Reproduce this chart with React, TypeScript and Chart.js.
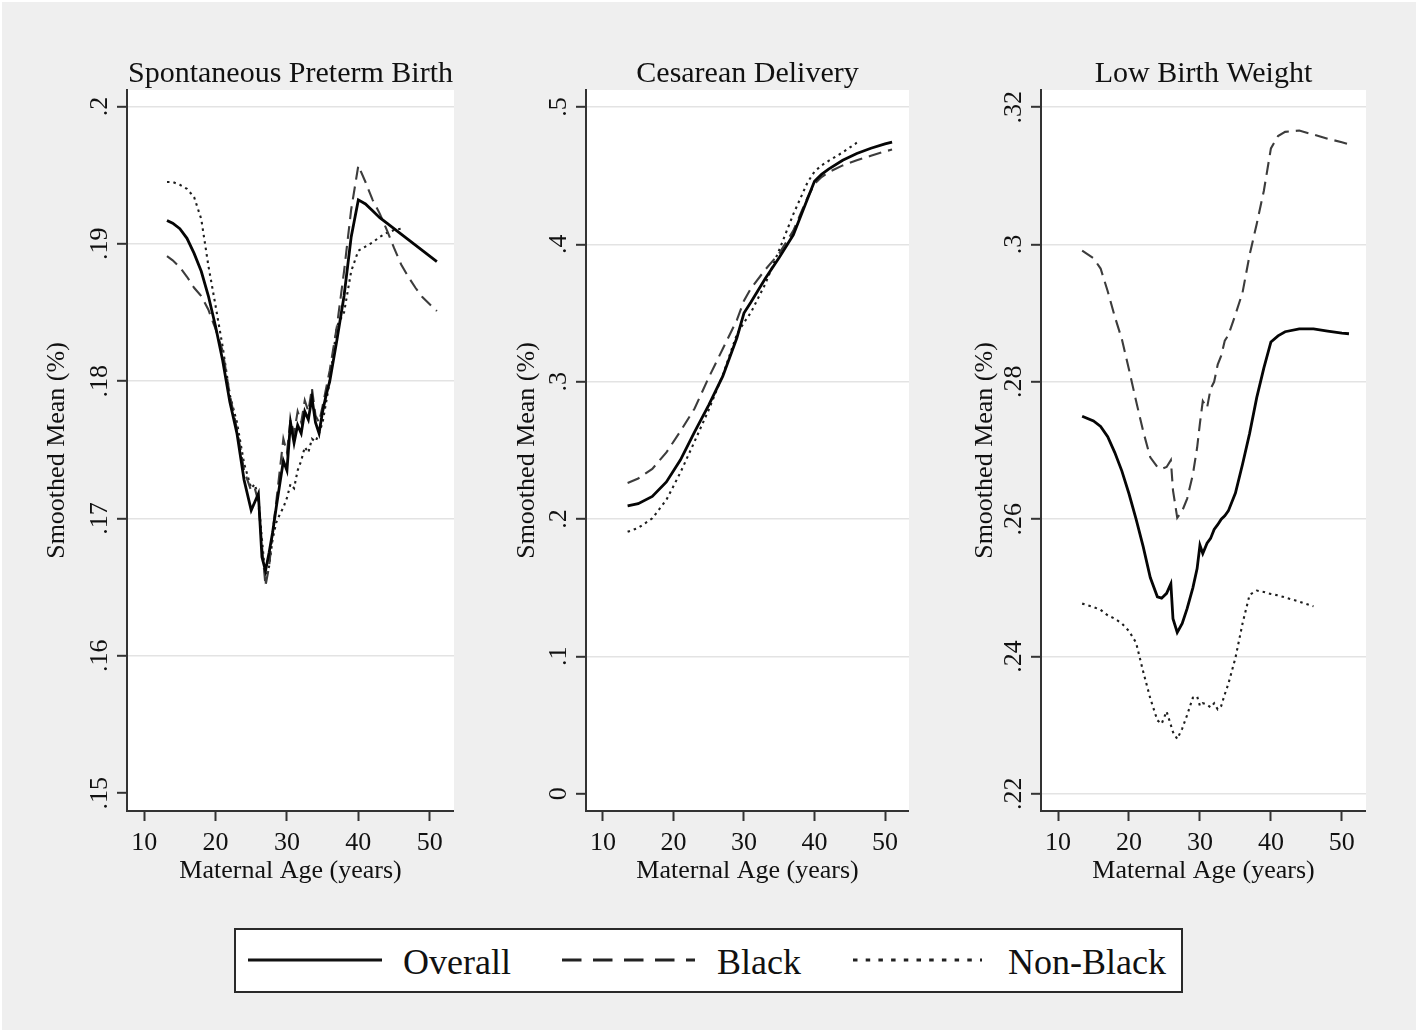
import React, { useEffect, useRef } from "react";
import { Chart, registerables } from "chart.js";

Chart.register(...registerables);

const FONT = "'Liberation Serif', 'Times New Roman', serif";
const INK = "#111111";
const AXIS = "#333333";
const GRID = "#e3e3e3";

// x axis
const xTicks = [10, 20, 30, 40, 50];
const AGE_MIN = 7.6;
const AGE_MAX = 53.4;

// ---------- Spontaneous Preterm Birth ----------
const spbAges = [13.2, 14, 15, 16, 17, 18, 19, 20, 21, 22, 23, 24, 25, 25.5, 26, 26.5, 27, 27.5, 28, 28.5, 29, 29.5, 30, 30.5, 31, 31.5, 32, 32.5, 33, 33.5, 34, 34.5, 35, 35.5, 36, 37, 38, 39, 40, 41, 42, 43, 44, 45, 46, 47, 48, 49, 50, 51];
const spbOverall = [0.1917, 0.1915, 0.1911, 0.1904, 0.1893, 0.188, 0.1862, 0.184, 0.1815, 0.1785, 0.1762, 0.1728, 0.1706, 0.1712, 0.1718, 0.1672, 0.1662, 0.1675, 0.169, 0.1708, 0.1725, 0.1742, 0.1735, 0.177, 0.1755, 0.1768, 0.1762, 0.1778, 0.1772, 0.1788, 0.177, 0.1762, 0.1778, 0.179, 0.18, 0.183, 0.1862, 0.1905, 0.1932, 0.1929, 0.1924, 0.1919, 0.1915, 0.1911, 0.1907, 0.1903, 0.1899, 0.1895, 0.1891, 0.1887];
const spbBlack = [0.1891, 0.1888, 0.1883, 0.1876, 0.1868, 0.1862, 0.1852, 0.1838, 0.1822, 0.179, 0.1765, 0.1735, 0.172, 0.1722, 0.1712, 0.168, 0.1651, 0.1665, 0.169, 0.1712, 0.1735, 0.1758, 0.1748, 0.1772, 0.1762, 0.1778, 0.177, 0.1786, 0.1778, 0.1795, 0.1775, 0.177, 0.1782, 0.1795, 0.1808, 0.184, 0.188, 0.1925, 0.1957, 0.1945, 0.1932, 0.1922, 0.191, 0.1897, 0.1885, 0.1876, 0.1868, 0.1861, 0.1856, 0.1851];
const spbNonBlack = [0.1945, 0.1945, 0.1943, 0.194, 0.1934, 0.1918, 0.1884, 0.1855, 0.1825, 0.179, 0.177, 0.174, 0.1722, 0.1725, 0.1715, 0.1685, 0.1656, 0.1665, 0.1685, 0.1697, 0.1703, 0.1708, 0.1715, 0.1725, 0.1722, 0.1735, 0.1742, 0.1752, 0.1748, 0.1758, 0.1756, 0.1762, 0.177, 0.1785, 0.18, 0.184, 0.185, 0.188, 0.1895, 0.1898, 0.1901, 0.1905, 0.1908, 0.191, 0.1911, null, null, null, null, null];
const spbTicks = [0.15, 0.16, 0.17, 0.18, 0.19, 0.2];
const spbTickLabels = [".15", ".16", ".17", ".18", ".19", ".2"];

// ---------- Cesarean Delivery ----------
const cesAges = [13.5, 15, 17, 19, 21, 23, 25, 27, 29, 30, 31, 33, 35, 37, 39, 40, 41, 42, 44, 46, 48, 50, 51];
const cesOverall = [0.2096, 0.2112, 0.2165, 0.227, 0.2431, 0.2635, 0.283, 0.304, 0.332, 0.35, 0.358, 0.375, 0.3905, 0.407, 0.433, 0.446, 0.451, 0.4548, 0.4612, 0.4662, 0.47, 0.4732, 0.4745];
const cesBlack = [0.2263, 0.2295, 0.2365, 0.2485, 0.264, 0.2805, 0.303, 0.324, 0.345, 0.359, 0.368, 0.3815, 0.3935, 0.41, 0.434, 0.444, 0.449, 0.4525, 0.4575, 0.4612, 0.4645, 0.4677, 0.469];
const cesNonBlack = [0.1907, 0.1935, 0.2005, 0.214, 0.234, 0.2565, 0.2795, 0.305, 0.3345, 0.343, 0.3505, 0.371, 0.396, 0.422, 0.445, 0.453, 0.4575, 0.4608, 0.467, 0.474, null, null, null];
const cesTicks = [0, 0.1, 0.2, 0.3, 0.4, 0.5];
const cesTickLabels = ["0", ".1", ".2", ".3", ".4", ".5"];

// ---------- Low Birth Weight ----------
const lbwAges = [13.4, 15, 16, 17, 18, 19, 20, 21, 22, 23, 24, 24.6, 25.3, 25.9, 26.2, 26.8, 27.5, 28.2, 29, 29.6, 30, 30.4, 31, 31.5, 32, 32.5, 33, 33.5, 34, 35, 36, 37, 38, 39, 40, 41, 42, 44, 46, 48, 50, 51];
const lbwOverall = [0.275, 0.2743, 0.2735, 0.272, 0.2697, 0.267, 0.2637, 0.26, 0.256, 0.2515, 0.2487, 0.2485, 0.2492, 0.2506, 0.2455, 0.2435, 0.2448, 0.247, 0.25, 0.2528, 0.2562, 0.255, 0.2565, 0.2572, 0.2585, 0.2592, 0.26, 0.2605, 0.2612, 0.2638, 0.268, 0.2725, 0.2777, 0.282, 0.2858, 0.2867, 0.2873, 0.2877, 0.2877, 0.2874, 0.2871, 0.287];
const lbwBlack = [0.2991, 0.298, 0.2965, 0.2932, 0.2895, 0.2862, 0.2818, 0.2772, 0.2728, 0.269, 0.2676, 0.2673, 0.2676, 0.2686, 0.2642, 0.2602, 0.2612, 0.263, 0.2665, 0.2704, 0.274, 0.2772, 0.2762, 0.279, 0.28, 0.2825, 0.2838, 0.286, 0.2868, 0.2898, 0.293, 0.2985, 0.303, 0.3078, 0.314, 0.3158, 0.3164, 0.3166, 0.316, 0.3154, 0.3149, 0.3146];
const lbwNonBlack = [0.2477, 0.2472, 0.2468, 0.246, 0.2455, 0.2448, 0.2437, 0.242, 0.2378, 0.2339, 0.2307, 0.2302, 0.232, 0.23, 0.229, 0.228, 0.2295, 0.2315, 0.234, 0.2342, 0.2328, 0.2332, 0.233, 0.2326, 0.2332, 0.2323, 0.2328, 0.2345, 0.236, 0.2398, 0.2448, 0.249, 0.2496, 0.2494, 0.2491, 0.2489, 0.2486, 0.248, 0.2473, null, null, null];
const lbwTicks = [0.22, 0.24, 0.26, 0.28, 0.3, 0.32];
const lbwTickLabels = [".22", ".24", ".26", ".28", ".3", ".32"];

const seriesNames = ["Overall", "Black", "Non-Black"];

type PanelDef = {
  title: string;
  ages: number[];
  series: (number | null)[][];
  yMin: number;
  yMax: number;
  yTicks: number[];
  yTickLabels: string[];
  gridAtMin: boolean;
  axisX: number;
  plotRight: number;
  yTitleOffset: number;
};

const panels: PanelDef[] = [
  { title: "Spontaneous Preterm Birth", ages: spbAges, series: [spbOverall, spbBlack, spbNonBlack], yMin: 0.1487, yMax: 0.2012, yTicks: spbTicks, yTickLabels: spbTickLabels, gridAtMin: false, axisX: 127, plotRight: 454, yTitleOffset: 70 },
  { title: "Cesarean Delivery", ages: cesAges, series: [cesOverall, cesBlack, cesNonBlack], yMin: -0.0126, yMax: 0.5124, yTicks: cesTicks, yTickLabels: cesTickLabels, gridAtMin: false, axisX: 586, plotRight: 909, yTitleOffset: 59 },
  { title: "Low Birth Weight", ages: lbwAges, series: [lbwOverall, lbwBlack, lbwNonBlack], yMin: 0.2175, yMax: 0.3225, yTicks: lbwTicks, yTickLabels: lbwTickLabels, gridAtMin: true, axisX: 1041, plotRight: 1366, yTitleOffset: 56 },
];

const lineStyles = [
  { color: "#050505", width: 2.8, dash: [] as number[] },
  { color: "#3c3c3c", width: 2.1, dash: [13, 7] },
  { color: "#1e1e1e", width: 2.1, dash: [2.5, 4] },
];

const CANVAS_TOP = 30;
const PLOT_TOP = 90;
const PLOT_BOTTOM = 811;
const Y_SCALE_W = 100;
const X_SCALE_H = 80;

function PanelChart({ p }: { p: PanelDef }) {
  const ref = useRef<HTMLCanvasElement | null>(null);
  const width = p.plotRight - p.axisX + Y_SCALE_W;
  const height = PLOT_BOTTOM + X_SCALE_H - CANVAS_TOP;

  useEffect(() => {
    if (!ref.current) return;
    const datasets = p.series.map((vals, si) => ({
      label: seriesNames[si],
      data: p.ages
        .map((a, i) => ({ x: a, y: vals[i] }))
        .filter((pt) => pt.y !== null && pt.y !== undefined),
      borderColor: lineStyles[si].color,
      borderWidth: lineStyles[si].width,
      borderDash: lineStyles[si].dash,
      pointRadius: 0,
      tension: 0,
      fill: false,
    }));

    const decor = {
      id: "decor",
      beforeDraw(chart: any) {
        const { ctx, chartArea } = chart;
        ctx.save();
        ctx.fillStyle = "#ffffff";
        ctx.fillRect(chartArea.left, chartArea.top, chartArea.right - chartArea.left, chartArea.bottom - chartArea.top);
        ctx.restore();
      },
      afterDraw(chart: any) {
        const { ctx, chartArea } = chart;
        const yScale = chart.scales.y;
        ctx.save();
        ctx.fillStyle = INK;
        ctx.font = `30px ${FONT}`;
        ctx.textAlign = "center";
        ctx.textBaseline = "middle";
        ctx.fillText(p.title, (chartArea.left + chartArea.right) / 2, chartArea.top - 16);
        ctx.font = `26px ${FONT}`;
        p.yTicks.forEach((v, i) => {
          const y = yScale.getPixelForValue(v);
          ctx.save();
          ctx.translate(chartArea.left - 27, y);
          ctx.rotate(-Math.PI / 2);
          ctx.fillText(p.yTickLabels[i], 0, 0);
          ctx.restore();
        });
        ctx.restore();
      },
    };

    const chart = new Chart(ref.current, {
      type: "line",
      data: { datasets },
      options: {
        responsive: false,
        animation: false,
        devicePixelRatio: 1,
        layout: { padding: { top: PLOT_TOP - CANVAS_TOP, left: 0, right: 0, bottom: 0 } },
        plugins: {
          legend: { display: false },
          tooltip: { enabled: false },
          title: { display: false },
        },
        scales: {
          x: {
            type: "linear",
            min: AGE_MIN,
            max: AGE_MAX,
            afterBuildTicks: (s: any) => {
              s.ticks = xTicks.map((v) => ({ value: v }));
            },
            afterFit: (s: any) => {
              s.height = X_SCALE_H;
            },
            grid: { drawOnChartArea: false, drawTicks: true, tickLength: 10, tickColor: AXIS, tickWidth: 2 },
            border: { color: AXIS, width: 2 },
            ticks: { font: { family: FONT, size: 26 }, color: INK, padding: 7, maxRotation: 0, autoSkip: false },
            title: { display: true, text: "Maternal Age (years)", font: { family: FONT, size: 26 }, color: INK, padding: { top: 0, bottom: 4 } },
          },
          y: {
            type: "linear",
            min: p.yMin,
            max: p.yMax,
            afterBuildTicks: (s: any) => {
              s.ticks = p.yTicks.map((v) => ({ value: v }));
            },
            afterFit: (s: any) => {
              s.width = Y_SCALE_W;
            },
            grid: {
              color: (c: any) => (c.index === 0 && !p.gridAtMin ? "rgba(0,0,0,0)" : GRID),
              lineWidth: 1.6,
              drawTicks: true,
              tickLength: 10,
              tickColor: AXIS,
              tickWidth: 2,
            },
            border: { color: AXIS, width: 2 },
            ticks: { display: false },
            title: {
              display: true,
              text: "Smoothed Mean (%)",
              font: { family: FONT, size: 26 },
              color: INK,
              padding: { top: Y_SCALE_W - p.yTitleOffset - 15.6, bottom: 0 },
            },
          },
        },
      } as any,
      plugins: [decor],
    });
    return () => chart.destroy();
  }, []);

  return (
    <canvas
      ref={ref}
      width={width}
      height={height}
      style={{ position: "absolute", left: p.axisX - Y_SCALE_W, top: CANVAS_TOP, width, height }}
    />
  );
}

function Legend() {
  const L = 234;
  const T = 928;
  const W = 949;
  const H = 65;
  const lineY = 960 - T;
  const textY = 974 - T;
  const textStyle = { fontFamily: FONT, fontSize: 36, fill: INK } as any;
  return (
    <svg width={W} height={H} style={{ position: "absolute", left: L, top: T }}>
      <rect x={1} y={1} width={W - 2} height={H - 2} fill="#ffffff" stroke="#2a2a2a" strokeWidth={2} />
      <line x1={248 - L} x2={382 - L} y1={lineY} y2={lineY} stroke="#111" strokeWidth={3} />
      <text x={403 - L} y={textY} style={textStyle}>{seriesNames[0]}</text>
      <line x1={562 - L} x2={695 - L} y1={lineY} y2={lineY} stroke="#222" strokeWidth={3} strokeDasharray="19.5 11.5" />
      <text x={717 - L} y={textY} style={textStyle}>{seriesNames[1]}</text>
      <line x1={853 - L} x2={982 - L} y1={lineY} y2={lineY} stroke="#222" strokeWidth={3} strokeDasharray="4.5 8.2" />
      <text x={1008 - L} y={textY} style={textStyle}>{seriesNames[2]}</text>
    </svg>
  );
}

export default function App() {
  return (
    <div style={{ position: "absolute", left: 0, top: 0, width: 1418, height: 1032, background: "#ffffff", overflow: "hidden" }}>
      <div style={{ position: "absolute", left: 2, top: 2, width: 1414, height: 1028, background: "#efefef" }} />
      {panels.map((p, i) => (
        <PanelChart key={i} p={p} />
      ))}
      <Legend />
    </div>
  );
}
